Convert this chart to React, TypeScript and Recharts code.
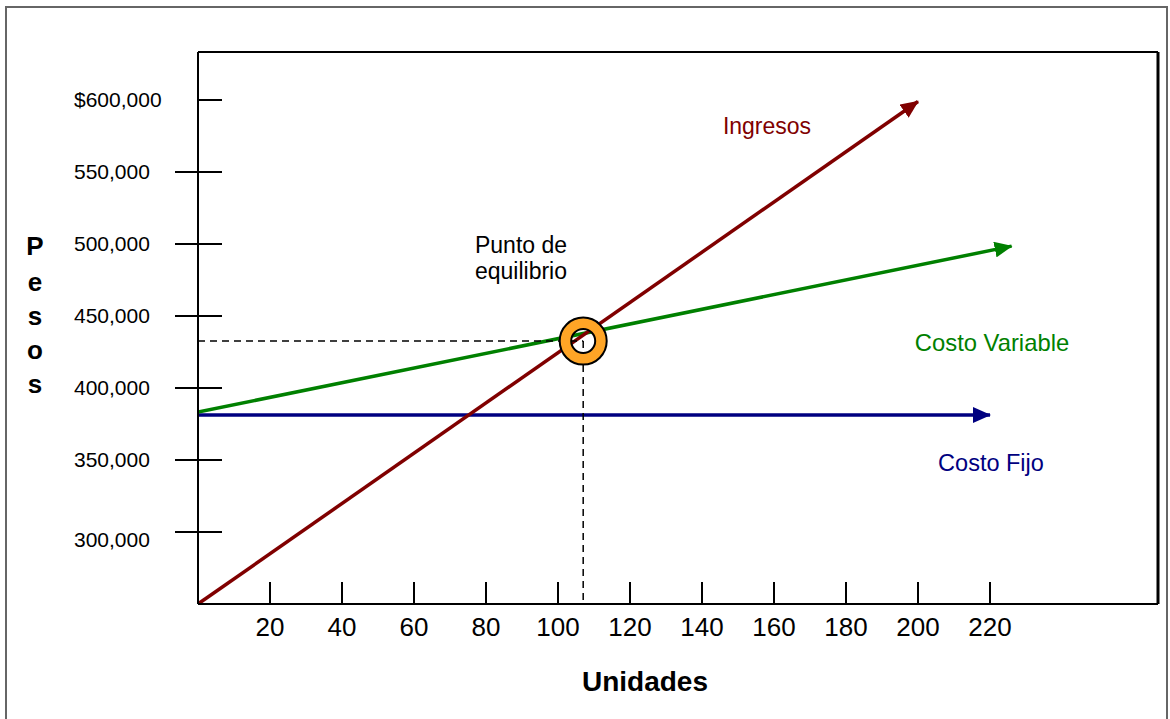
import { LineChart, Line, XAxis, YAxis, ReferenceLine, ReferenceDot } from 'recharts'

// unidades -> pesos
const ingresos = [
  { u: 0, pesos: 250000 },
  { u: 200, pesos: 599000 },
]
const costoVariable = [
  { u: 0, pesos: 383300 },
  { u: 226, pesos: 498500 },
]
const costoFijo = [
  { u: 0, pesos: 381250 },
  { u: 220, pesos: 381250 },
]
const equilibrio = { u: 107, pesos: 432600 }

const xTicks = [20, 40, 60, 80, 100, 120, 140, 160, 180, 200, 220]
const yTicks = [300000, 350000, 400000, 450000, 500000, 550000, 600000]
const yTickLabels = ['300,000', '350,000', '400,000', '450,000', '500,000', '550,000', '$600,000']

const X_DOMAIN: [number, number] = [0, 266.67]
const Y_DOMAIN: [number, number] = [250000, 633333]
// the stretch of the y axis that is drawn thin in the original
const Y_THIN: [number, number] = [584000, 617400]

const FONT = '"Liberation Sans", Arial, sans-serif'

const YTick = (props: any) => {
  const { x, y, payload } = props
  const i = yTicks.indexOf(payload.value)
  const isTop = payload.value === 600000
  const shift = payload.value === 300000 ? 8 : 0
  return (
    <g>
      <line x1={isTop ? x : x - 23} x2={x + 24} y1={y} y2={y} stroke="#000" strokeWidth={2} />
      <text x={x - 124} y={y + 7.5 + shift} fontSize={21} fontFamily={FONT} fill="#000" textAnchor="start">
        {yTickLabels[i]}
      </text>
    </g>
  )
}

const XTick = (props: any) => {
  const { x, y, payload } = props
  return (
    <g>
      <line x1={x} x2={x} y1={y - 22} y2={y} stroke="#000" strokeWidth={2} />
      <text x={x} y={y + 32} fontSize={26} fontFamily={FONT} fill="#000" textAnchor="middle">
        {payload.value}
      </text>
    </g>
  )
}

const Ring = (props: any) => {
  const { cx, cy } = props
  const R = 23.5
  const r = 12
  const d =
    `M${cx - R},${cy} a${R},${R} 0 1,0 ${2 * R},0 a${R},${R} 0 1,0 ${-2 * R},0 Z ` +
    `M${cx - r},${cy} a${r},${r} 0 1,0 ${2 * r},0 a${r},${r} 0 1,0 ${-2 * r},0 Z`
  return <path d={d} fill="#ffa526" fillRule="evenodd" stroke="#000" strokeWidth={2} />
}

const arrow = (id: string, color: string) => (
  <marker id={id} viewBox="0 0 18 16" markerWidth={18} markerHeight={16} refX={17} refY={8} orient="auto" markerUnits="userSpaceOnUse">
    <path d="M0,0 L18,8 L0,16 Z" fill={color} />
  </marker>
)

export default function App() {
  return (
    <div style={{ position: 'absolute', left: 0, top: 0, width: 1170, height: 719, background: '#fff', overflow: 'hidden', fontFamily: FONT }}>
      <svg width={0} height={0} style={{ position: 'absolute' }}>
        <defs>
          {arrow('arrow-red', '#800000')}
          {arrow('arrow-green', '#008000')}
          {arrow('arrow-blue', '#000080')}
        </defs>
      </svg>
      <div style={{ position: 'absolute', left: 5, top: 6, width: 1163, height: 730, border: '2px solid #666', boxSizing: 'border-box' }} />
      <div style={{ position: 'absolute', left: 0, top: 0 }}>
        <LineChart width={1170} height={719} margin={{ top: 52, right: 12, bottom: 0, left: 0 }}>
          <XAxis
            xAxisId="main"
            type="number"
            dataKey="u"
            domain={X_DOMAIN}
            ticks={xTicks}
            tick={<XTick />}
            tickLine={false}
            tickSize={0}
            tickMargin={0}
            axisLine={{ stroke: '#000', strokeWidth: 2 }}
            height={115}
            allowDataOverflow
          />
          <YAxis
            yAxisId="main"
            type="number"
            domain={Y_DOMAIN}
            ticks={yTicks}
            tick={<YTick />}
            tickLine={false}
            tickSize={0}
            tickMargin={0}
            axisLine={{ stroke: '#000', strokeWidth: 2 }}
            width={198}
            allowDataOverflow
          />

          {/* frame: top and right edges of the plot */}
          <ReferenceLine xAxisId="main" yAxisId="main" y={Y_DOMAIN[1]} stroke="#000" strokeWidth={2} />
          <ReferenceLine xAxisId="main" yAxisId="main" x={X_DOMAIN[1]} stroke="#000" strokeWidth={3} />
          <ReferenceLine
            xAxisId="main"
            yAxisId="main"
            segment={[{ x: 0, y: Y_THIN[0] }, { x: 0, y: Y_THIN[1] }]}
            stroke="#fff"
            strokeWidth={3}
          />
          <ReferenceLine
            xAxisId="main"
            yAxisId="main"
            segment={[{ x: 0, y: Y_THIN[0] }, { x: 0, y: Y_THIN[1] }]}
            stroke="#777"
            strokeWidth={1}
          />

          <Line xAxisId="main" yAxisId="main" data={costoFijo} dataKey="pesos" type="linear" stroke="#000080" strokeWidth={3.5} dot={false} activeDot={false} isAnimationActive={false} markerEnd="url(#arrow-blue)" />
          <Line xAxisId="main" yAxisId="main" data={costoVariable} dataKey="pesos" type="linear" stroke="#008000" strokeWidth={3.5} dot={false} activeDot={false} isAnimationActive={false} markerEnd="url(#arrow-green)" />
          <Line xAxisId="main" yAxisId="main" data={ingresos} dataKey="pesos" type="linear" stroke="#800000" strokeWidth={3.5} dot={false} activeDot={false} isAnimationActive={false} markerEnd="url(#arrow-red)" />

          <ReferenceDot xAxisId="main" yAxisId="main" x={equilibrio.u} y={equilibrio.pesos} shape={<Ring />} ifOverflow="visible" />
          <ReferenceLine
            xAxisId="main"
            yAxisId="main"
            segment={[{ x: 0, y: equilibrio.pesos }, { x: equilibrio.u, y: equilibrio.pesos }]}
            stroke="#000"
            strokeWidth={1.5}
            strokeDasharray="7 5"
          />
          <ReferenceLine
            xAxisId="main"
            yAxisId="main"
            segment={[{ x: equilibrio.u, y: equilibrio.pesos }, { x: equilibrio.u, y: Y_DOMAIN[0] }]}
            stroke="#000"
            strokeWidth={1.5}
            strokeDasharray="7 5"
          />

          <text x={767} y={134} fontSize={23} fontFamily={FONT} fill="#800000" textAnchor="middle">Ingresos</text>
          <text x={521} y={253} fontSize={23} fontFamily={FONT} fill="#000" textAnchor="middle">Punto de</text>
          <text x={521} y={279} fontSize={23} fontFamily={FONT} fill="#000" textAnchor="middle">equilibrio</text>
          <text x={992} y={351} fontSize={23.8} fontFamily={FONT} fill="#008000" textAnchor="middle">Costo Variable</text>
          <text x={991} y={471} fontSize={23.5} fontFamily={FONT} fill="#000080" textAnchor="middle">Costo Fijo</text>
          <text x={645} y={691} fontSize={28} fontWeight="bold" fontFamily={FONT} fill="#000" textAnchor="middle">Unidades</text>
          {['P', 'e', 's', 'o', 's'].map((ch, i) => (
            <text key={i} x={35} y={[255, 291, 325, 359, 393][i]} fontSize={26} fontWeight="bold" fontFamily={FONT} fill="#000" textAnchor="middle">
              {ch}
            </text>
          ))}
        </LineChart>
      </div>
    </div>
  )
}
